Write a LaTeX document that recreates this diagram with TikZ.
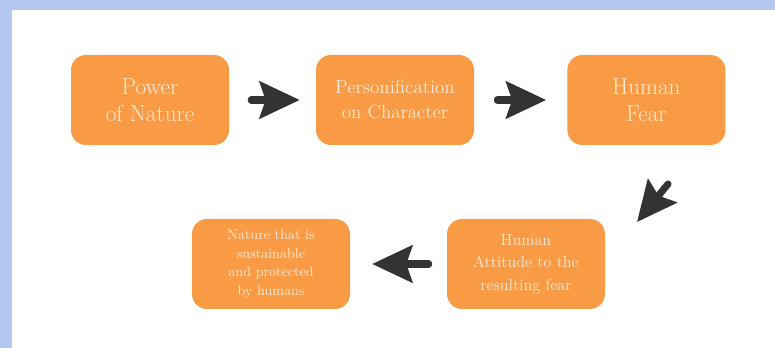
\documentclass[tikz,border=0pt]{standalone}
\usepackage{tikz}
\usetikzlibrary{arrows.meta}
\definecolor{boxorange}{HTML}{F99A45}
\definecolor{arrowgray}{HTML}{333333}
\definecolor{frameblue}{HTML}{B4C7EE}
\definecolor{textcream}{HTML}{FCEBD9}

\begin{document}
\begin{tikzpicture}[main/.style = {fill=boxorange, rounded corners=0.375cm, minimum width=3.95cm, minimum height=2.25cm, text=textcream, align=center, inner sep=0pt}, link/.style = {draw=arrowgray, line width=5pt, line cap=round, -{Stealth[length=28.5pt, width=26.3pt, inset=4.3pt]}}]
	\useasboundingbox (0, 0) rectangle (19.375, 8.7);
	\fill[frameblue] (0, 0) rectangle (19.375, 8.7);
	\fill[white] (0.3, 0) rectangle (19.375, 8.45);
	\node[main, font=\fontsize{16.5}{19.5}\selectfont] (power) at (3.75, 6.2){Power\\of Nature};
	\node[main, font=\fontsize{13.5}{17.8}\selectfont] (person) at (9.875, 6.2){Personification\\on Character};
	\node[main, font=\fontsize{16.5}{19.5}\selectfont] (fear) at (16.16, 6.2){Human\\Fear};
	\node[main, font=\fontsize{11.5}{16}\selectfont] (attitude) at (13.15, 2.1){Human\\Attitude to the\\resulting fear};
	\node[main, font=\fontsize{10}{13.3}\selectfont] (sustain) at (6.775, 2.1){Nature that is\\sustainable\\and protected\\by humans};
	\coordinate (turnA) at (16.7, 4.1);
	\coordinate (turnB) at (15.925, 3.15);
	\draw[link, shorten <=15.6pt, shorten >=11.4pt] (power) -- (person);
	\draw[link, shorten <=16.4pt, shorten >=14.9pt] (person) -- (fear);
	\draw[link] (turnA) -- (turnB);
	\draw[link, shorten <=12.8pt, shorten >=15.6pt] (attitude) -- (sustain);
\end{tikzpicture}
\end{document}
